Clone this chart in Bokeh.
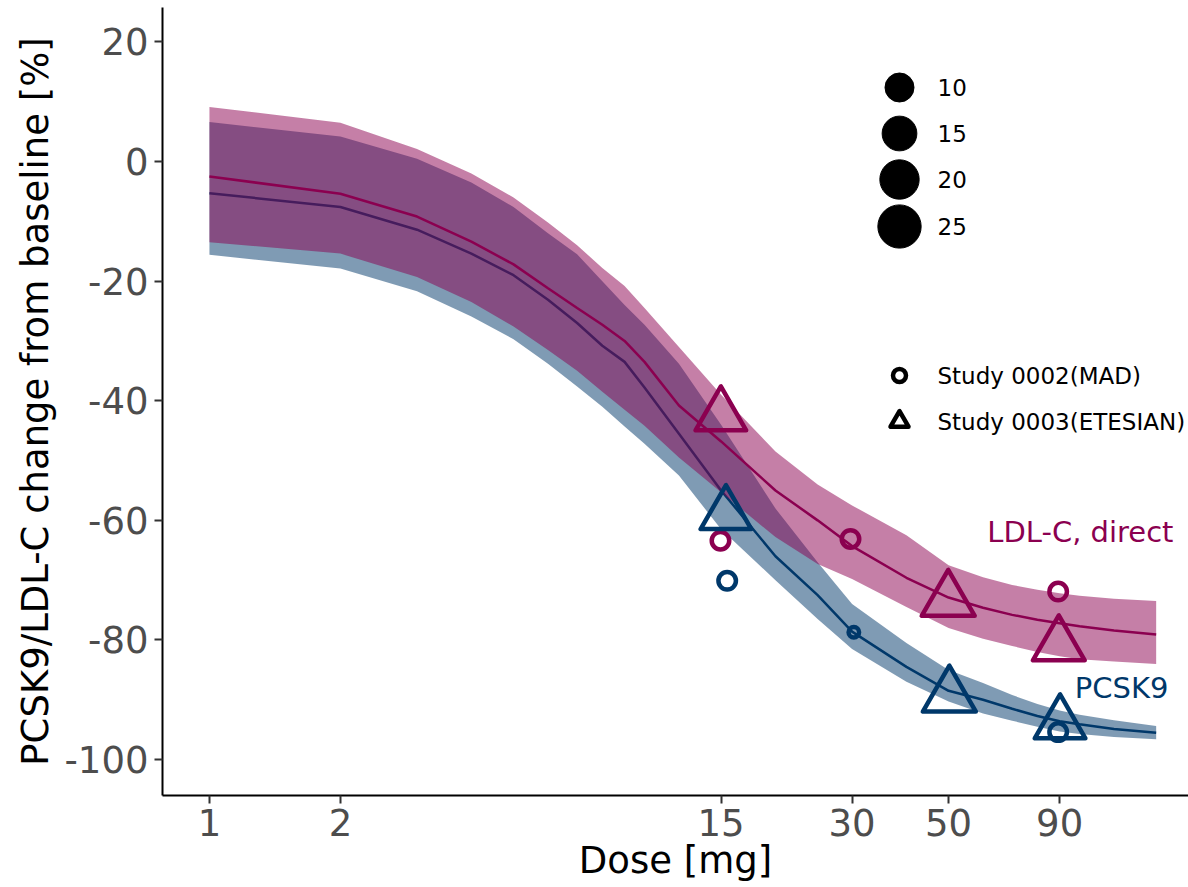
import numpy as np
from bokeh.plotting import figure
from bokeh.models import Range1d, FixedTicker, CustomJSTickFormatter, ColumnDataSource
from bokeh.core.properties import value
from bokeh.embed import file_html
from bokeh.resources import INLINE

# ---------------- data ----------------
dose_grid = [1, 2, 3, 4, 5, 6, 7, 8, 9, 10, 12, 15, 20, 25, 30, 40, 50, 60, 70, 80, 90, 100, 120, 150]

ldl_median = [-2.5, -5.4, -9.2, -13.4, -17.2, -21.2, -24.5, -27.3, -30.0, -33.5, -40.8, -46.8,
              -55.0, -60.0, -64.3, -69.6, -72.9, -74.6, -75.8, -76.6, -77.2, -77.7, -78.4, -79.1]
ldl_upper = [9.1, 6.5, 2.1, -2.0, -6.0, -10.2, -14.0, -17.8, -20.8, -24.5, -31.0, -39.0,
             -48.5, -54.0, -57.5, -62.5, -67.5, -69.5, -70.8, -71.6, -72.2, -72.6, -73.1, -73.5]
ldl_lower = [-13.5, -15.4, -19.3, -23.5, -27.6, -31.5, -35.0, -38.5, -41.5, -44.2, -49.5, -55.3,
             -62.8, -67.3, -69.8, -74.5, -78.0, -79.8, -81.0, -82.0, -82.7, -83.2, -83.6, -84.0]

pcsk9_median = [-5.3, -7.6, -11.4, -15.4, -19.0, -23.1, -27.0, -30.8, -33.5, -37.8, -45.5, -55.0,
                -66.0, -72.5, -78.6, -84.5, -88.5, -90.0, -91.5, -92.7, -93.6, -94.1, -94.9, -95.5]
pcsk9_upper = [6.6, 4.2, 0.45, -3.5, -7.6, -12.0, -15.5, -20.0, -24.0, -27.3, -33.8, -44.0,
               -58.0, -67.0, -74.0, -80.5, -85.0, -87.2, -89.2, -90.7, -91.8, -92.5, -93.4, -94.4]
pcsk9_lower = [-15.6, -17.9, -21.7, -25.9, -29.7, -33.8, -37.6, -41.0, -44.3, -47.2, -52.5, -61.5,
               -70.0, -76.5, -81.5, -87.0, -90.3, -92.3, -93.5, -94.5, -95.3, -95.7, -96.2, -96.6]

# observed study means (dose, % change, number of subjects)
ldl_mad_dose = [14.95, 29.75, 89.3]
ldl_mad_val = [-63.4, -63.1, -71.9]
ldl_mad_n = [4, 4, 4]
ldl_ete_dose = [14.98, 49.9, 89.6]
ldl_ete_val = [-42.5, -73.4, -80.9]
ldl_ete_n = [18, 20, 19]

pcsk9_mad_dose = [15.49, 30.28, 89.3]
pcsk9_mad_val = [-70.1, -78.7, -95.4]
pcsk9_mad_n = [4, 3, 4]
pcsk9_ete_dose = [15.39, 50.2, 90.2]
pcsk9_ete_val = [-59.0, -89.4, -94.0]
pcsk9_ete_n = [18, 20, 18]

x_ticks = [1, 2, 15, 30, 50, 90]
y_ticks = [-100, -80, -60, -40, -20, 0, 20]
size_breaks = [10, 15, 20, 25]
study_labels = ["Study 0002(MAD)", "Study 0003(ETESIAN)"]
ldl_label = "LDL-C, direct"
pcsk9_label = "PCSK9"
ldl_label_pos = (164.4, -62.0)
pcsk9_label_pos = (160.1, -88.1)

# ---------------- styling ----------------
FONT = "DejaVu Sans"
LDL_COL = "#8B0050"
PCSK9_COL = "#00386A"
W, H = 1188, 887
FL, FR, FT, FB = 162, 1188, 7, 795
X0, X1 = 0.78, 178.0
Y0, Y1 = -106.0, 25.75


def diam(n):
    n = np.asarray(n, dtype=float)
    return 10.5 + 7.0 * np.sqrt(np.maximum(n - 3.0, 0.0))


TRI = 1.347  # triangle side relative to circle diameter for equal size


def sx_to_x(px):
    lx0, lx1 = np.log10(X0), np.log10(X1)
    return 10 ** (lx0 + (px - FL) / (FR - FL) * (lx1 - lx0))


def sy_to_y(py):
    return Y1 - (py - FT) / (FB - FT) * (Y1 - Y0)


p = figure(width=W, height=H, x_axis_type="log",
           x_range=Range1d(X0, X1), y_range=Range1d(Y0, Y1),
           output_backend="svg", toolbar_location=None,
           min_border_left=FL, min_border_right=W - FR,
           min_border_top=FT, min_border_bottom=H - FB)
p.outline_line_color = None
p.xgrid.visible = False
p.ygrid.visible = False
p.background_fill_color = "white"
p.border_fill_color = "white"

for ax in (p.xaxis[0], p.yaxis[0]):
    ax.axis_line_color = "black"
    ax.axis_line_width = 2
    ax.major_tick_line_color = "#333333"
    ax.major_tick_line_width = 2
    ax.major_tick_out = 8
    ax.major_tick_in = 0
    ax.minor_tick_line_color = None
    ax.major_label_text_font = FONT
    ax.major_label_text_font_size = "37px"
    ax.major_label_text_color = "#4D4D4D"
    ax.axis_label_text_font = FONT
    ax.axis_label_text_font_size = "37px"
    ax.axis_label_text_font_style = "normal"
    ax.axis_label_text_color = "black"
    ax.formatter = CustomJSTickFormatter(code="return String(tick);")

p.xaxis[0].ticker = FixedTicker(ticks=x_ticks)
p.xaxis[0].axis_label = "Dose [mg]"
p.xaxis[0].major_label_standoff = 5
p.xaxis[0].axis_label_standoff = 0
p.yaxis[0].ticker = FixedTicker(ticks=y_ticks)
p.yaxis[0].axis_label = "PCSK9/LDL-C change from baseline [%]"
p.yaxis[0].major_label_standoff = 6
p.yaxis[0].axis_label_standoff = 5

# bands and median lines
p.varea(x=dose_grid, y1=pcsk9_lower, y2=pcsk9_upper, fill_color=PCSK9_COL, fill_alpha=0.5)
p.line(x=dose_grid, y=pcsk9_median, line_color=PCSK9_COL, line_width=2.5)
p.varea(x=dose_grid, y1=ldl_lower, y2=ldl_upper, fill_color=LDL_COL, fill_alpha=0.5)
p.line(x=dose_grid, y=ldl_median, line_color=LDL_COL, line_width=2.5)

# observed points
LW = 4.5
for d, v, n, col in [(pcsk9_mad_dose, pcsk9_mad_val, pcsk9_mad_n, PCSK9_COL),
                     (ldl_mad_dose, ldl_mad_val, ldl_mad_n, LDL_COL)]:
    src = ColumnDataSource(dict(x=d, y=v, s=diam(n)))
    p.scatter(x="x", y="y", size="s", source=src, marker="circle", fill_color=None,
              line_color=col, line_width=LW)
for d, v, n, col in [(pcsk9_ete_dose, pcsk9_ete_val, pcsk9_ete_n, PCSK9_COL),
                     (ldl_ete_dose, ldl_ete_val, ldl_ete_n, LDL_COL)]:
    src = ColumnDataSource(dict(x=d, y=v, s=diam(n) * TRI))
    p.scatter(x="x", y="y", size="s", source=src, marker="triangle", fill_color=None,
              line_color=col, line_width=LW, line_join="round")

# series labels
p.text(x=[ldl_label_pos[0]], y=[ldl_label_pos[1]], text=[ldl_label], text_color=LDL_COL,
       text_font=value(FONT), text_font_size="29px", text_align="right", text_baseline="middle")
p.text(x=[pcsk9_label_pos[0]], y=[pcsk9_label_pos[1]], text=[pcsk9_label], text_color=PCSK9_COL,
       text_font=value(FONT), text_font_size="29px", text_align="right", text_baseline="middle")

# size legend (inside panel)
key_x = sx_to_x(899)
lab_x = sx_to_x(937)
size_rows = [sy_to_y(py) for py in (87, 133, 179, 226)]
p.scatter(x=[key_x] * 4, y=size_rows, size=diam(size_breaks), marker="circle",
          fill_color="black", line_color="black", line_width=1)
p.text(x=[lab_x] * 4, y=size_rows, text=[str(b) for b in size_breaks], text_color="black",
       text_font=value(FONT), text_font_size="23px", text_align="left", text_baseline="middle")

# shape legend
shape_rows = [sy_to_y(375), sy_to_y(421)]
p.scatter(x=[key_x], y=[shape_rows[0]], size=13, marker="circle", fill_color=None,
          line_color="black", line_width=LW)
p.scatter(x=[key_x], y=[shape_rows[1]], size=18, marker="triangle", fill_color=None,
          line_color="black", line_width=LW, line_join="round")
p.text(x=[lab_x] * 2, y=shape_rows, text=study_labels, text_color="black",
       text_font=value(FONT), text_font_size="23px", text_align="left", text_baseline="middle")

open("out.html", "w").write(file_html(p, INLINE))
